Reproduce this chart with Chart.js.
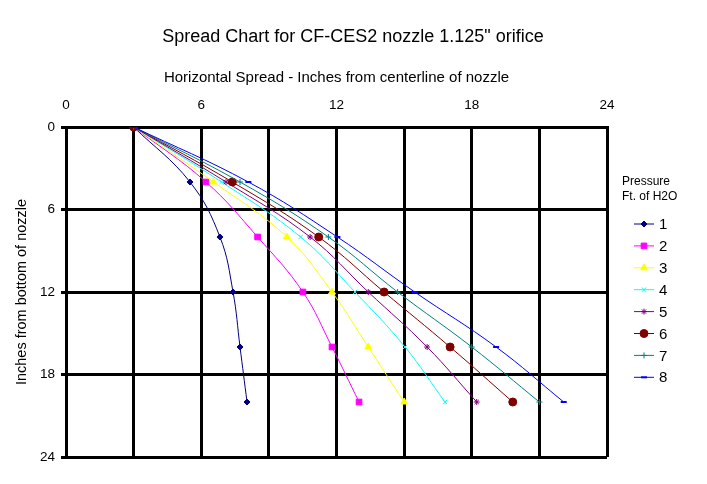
<!DOCTYPE html>
<html>
<head>
<meta charset="utf-8">
<script src="https://cdn.jsdelivr.net/npm/chart.js@4/dist/chart.umd.min.js"></script>
<style>
  html, body { margin: 0; padding: 0; background: #fff; }
  #wrap { width: 707px; height: 484px; }
</style>
</head>
<body>
<div id="wrap"><canvas id="spreadChart" width="707" height="484"></canvas></div>
<script>
// depth below nozzle (inches) for every series
const depth = [0, 4, 8, 12, 16, 20];
// horizontal spread (inches from centerline) per pressure, ft of H2O
const spread1 = [3, 5.5, 6.83, 7.41, 7.72, 8.03];
const spread2 = [3, 6.21, 8.5, 10.51, 11.8, 13.0];
const spread3 = [3, 6.54, 9.8, 11.8, 13.41, 15.0];
const spread4 = [3, 6.9, 10.41, 12.82, 15.04, 16.81];
const spread5 = [3, 7.1, 10.83, 13.41, 16.02, 18.22];
const spread6 = [3, 7.38, 11.21, 14.11, 17.04, 19.82];
const spread7 = [3, 7.72, 11.64, 14.71, 18.0, 21.0];
const spread8 = [3, 8.09, 12.04, 15.47, 19.08, 22.08];
const pressures = ['1', '2', '3', '4', '5', '6', '7', '8'];
const chartTitle = 'Spread Chart for CF-CES2 nozzle 1.125" orifice';

document.addEventListener('DOMContentLoaded', () => {
    const ctx = document.getElementById('spreadChart').getContext('2d');
    const font = "'Liberation Sans', Arial, sans-serif";

    const allSpreads = [spread1, spread2, spread3, spread4, spread5, spread6, spread7, spread8];
    const colors = ['#000080', '#ff00ff', '#ffff00', '#00ffff', '#800080', '#800000', '#008080', '#0000ff'];
    const styles = ['rectRot', 'rect', 'triangle', 'crossRot', 'star', 'circle', 'cross', 'line'];
    const radii = [3, 4, 4, 3, 3, 4, 3, 3];
    const widths = [1, 1, 1, 1, 1, 1, 1, 2];

    const datasets = allSpreads.map((arr, i) => ({
        label: pressures[i],
        data: arr.map((x, j) => ({ x: x, y: depth[j] })),
        showLine: true,
        borderColor: colors[i],
        backgroundColor: colors[i],
        borderWidth: 1,
        pointStyle: styles[i],
        pointRadius: radii[i],
        pointBorderWidth: widths[i],
        pointBorderColor: colors[i],
        pointBackgroundColor: colors[i],
        tension: 0.4,
        order: 8 - i
    }));

    // Title (centred on the whole page) and the Excel style legend on the right
    const decorations = {
        id: 'decorations',
        afterDraw(chart) {
            const c = chart.ctx;
            c.save();
            c.fillStyle = '#000';
            c.textBaseline = 'middle';
            c.textAlign = 'center';
            c.font = '18px ' + font;
            c.fillText(chartTitle, 353, 37);

            c.textAlign = 'left';
            c.font = '12px ' + font;
            c.fillText('Pressure', 622, 182);
            c.fillText('Ft. of H2O', 622, 197);
            chart.data.datasets.forEach((ds, i) => {
                const y = 224 + i * 21.9;
                c.strokeStyle = ds.borderColor;
                c.lineWidth = 1;
                c.beginPath();
                c.moveTo(634, y);
                c.lineTo(654, y);
                c.stroke();
                c.fillStyle = ds.pointBackgroundColor;
                c.strokeStyle = ds.pointBorderColor;
                c.lineWidth = ds.pointBorderWidth;
                Chart.helpers.drawPoint(c, {
                    pointStyle: ds.pointStyle,
                    radius: ds.pointRadius,
                    rotation: 0,
                    borderWidth: ds.pointBorderWidth
                }, 644, y);
                c.fillStyle = '#000';
                c.font = '15px ' + font;
                c.fillText(ds.label, 659, y + 1);
            });
            c.restore();
        }
    };

    new Chart(ctx, {
        type: 'scatter',
        data: { datasets: datasets },
        plugins: [decorations],
        options: {
            responsive: false,
            animation: false,
            layout: {
                padding: { left: 0, right: 100, top: 47.2, bottom: 27 }
            },
            plugins: {
                legend: { display: false },
                tooltip: { enabled: false },
                title: { display: false }
            },
            scales: {
                x: {
                    type: 'linear',
                    position: 'top',
                    min: 0,
                    max: 24,
                    ticks: {
                        stepSize: 3,
                        color: '#000',
                        font: { family: font, size: 13.5 },
                        padding: 14,
                        maxRotation: 0,
                        callback: v => (v % 6 === 0 ? v : '')
                    },
                    grid: { color: '#000', lineWidth: 3, drawTicks: false },
                    border: { color: '#000', width: 3 },
                    title: {
                        display: true,
                        text: 'Horizontal Spread - Inches from centerline of nozzle',
                        color: '#000',
                        font: { family: font, size: 15 },
                        padding: { top: 22, bottom: 0 }
                    },
                    afterFit: s => { s.height = 79.8; }
                },
                y: {
                    type: 'linear',
                    reverse: true,
                    min: 0,
                    max: 24,
                    ticks: {
                        stepSize: 6,
                        color: '#000',
                        font: { family: font, size: 13.5 },
                        padding: 6
                    },
                    grid: { color: '#000', lineWidth: 3, tickLength: 5 },
                    border: { color: '#000', width: 3 },
                    title: {
                        display: true,
                        text: 'Inches from bottom of nozzle',
                        color: '#000',
                        font: { family: font, size: 14.5 },
                        padding: { top: 13, bottom: 0 }
                    },
                    afterFit: s => { s.width = 66; }
                }
            }
        }
    });
});
</script>
</body>
</html>
